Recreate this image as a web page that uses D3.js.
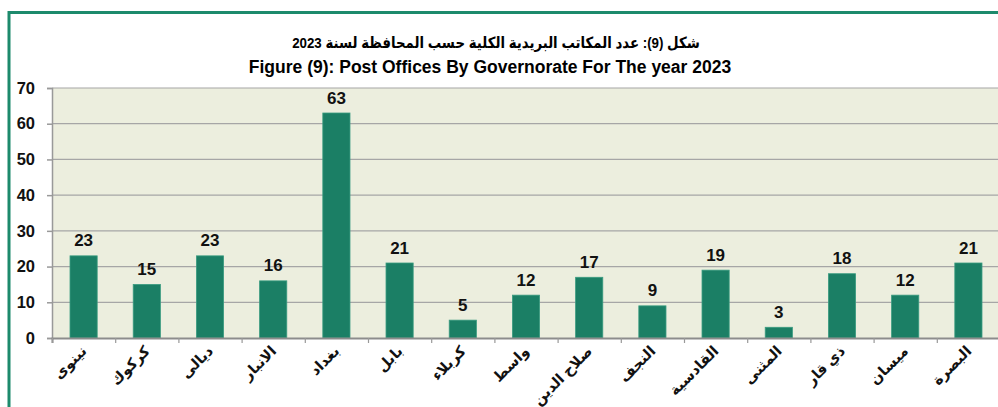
<!DOCTYPE html>
<html>
<head>
<meta charset="utf-8">
<script src="https://cdn.jsdelivr.net/npm/d3@7"></script>
<style>
  body { margin: 0; background: #fff; }
  svg text { font-family: "Liberation Sans", Arial, "DejaVu Sans", sans-serif; font-weight: bold; }
</style>
</head>
<body>
<svg id="chart" width="998" height="407"></svg>
<script>
// data
var governorates = ["نينوى", "كركوك", "ديالى", "الانبار", "بغداد", "بابل", "كربلاء", "واسط",
    "صلاح الدين", "النجف", "القادسية", "المثنى", "ذي قار", "ميسان", "البصرة"];
var offices = [23, 15, 23, 16, 63, 21, 5, 12, 17, 9, 19, 3, 18, 12, 21];
var yTicks = [0, 10, 20, 30, 40, 50, 60, 70];
var titleAr = "شكل (9): عدد المكاتب البريدية الكلية حسب المحافظة لسنة 2023";
var titleEn = "Figure (9): Post Offices By Governorate For The year 2023";

var svg = d3.select("#chart"),
    plotL = 52, plotR = 1000, plotT = 88, plotB = 338;

// outer frame
svg.append("line").attr("x1", 9).attr("x2", 998).attr("y1", 12.5).attr("y2", 12.5)
    .attr("stroke", "#1d8a6c").attr("stroke-width", 3);
svg.append("line").attr("x1", 9).attr("x2", 9).attr("y1", 11).attr("y2", 407)
    .attr("stroke", "#1d8a6c").attr("stroke-width", 3);

// arabic title squeezed a little, the original font is narrower
svg.append("text").attr("transform", "translate(496,48) scale(0.86,1)").attr("text-anchor", "middle")
    .attr("font-size", 15.5).attr("direction", "rtl").text(titleAr);
svg.append("text").attr("x", 490).attr("y", 73).attr("text-anchor", "middle")
    .attr("font-size", 17.5).text(titleEn);

var xScale = d3.scaleBand().domain(governorates).range([plotL, plotR]).paddingInner(0.57).paddingOuter(0.285),
    yScale = d3.scaleLinear().domain([0, 70]).range([plotB, plotT]);

svg.append("rect").attr("x", plotL).attr("y", plotT).attr("width", plotR - plotL).attr("height", plotB - plotT)
    .attr("fill", "#eceede");

// grid
svg.append("g").selectAll("line").data(yTicks.filter(function (d) { return d > 0; })).enter().append("line")
    .attr("x1", plotL).attr("x2", plotR)
    .attr("y1", function (d) { return yScale(d); }).attr("y2", function (d) { return yScale(d); })
    .attr("stroke", "#a6a6a6").attr("stroke-width", 1.2);

var yAxis = svg.append("g").attr("transform", "translate(" + plotL + ",0)")
    .call(d3.axisLeft(yScale).tickValues(yTicks).tickSize(5).tickPadding(12));
yAxis.selectAll("line,path").attr("stroke", "#999").attr("stroke-width", 1.5);
yAxis.selectAll("text").attr("font-size", 16.5).attr("fill", "#111")
    .style("font-family", "'Liberation Sans', Arial, sans-serif").style("font-weight", "bold");

// bars
svg.selectAll(".bar").data(offices).enter().append("rect").attr("class", "bar")
    .attr("x", function (d, i) { return xScale(governorates[i]); })
    .attr("y", function (d) { return yScale(d); })
    .attr("width", xScale.bandwidth())
    .attr("height", function (d) { return plotB - yScale(d); })
    .attr("fill", "#1b7f65").attr("stroke", "#3a9c80").attr("stroke-width", 0.8);

svg.selectAll(".val").data(offices).enter().append("text").attr("class", "val")
    .attr("x", function (d, i) { return xScale(governorates[i]) + xScale.bandwidth() / 2; })
    .attr("y", function (d) { return yScale(d) - 9.5; })
    .attr("text-anchor", "middle").attr("font-size", 17).attr("fill", "#111")
    .text(function (d) { return d; });

// x axis with ticks on band boundaries
var xb = d3.scaleLinear().domain([0, governorates.length]).range([plotL, plotR]);
var xAxis = svg.append("g").attr("transform", "translate(0," + plotB + ")")
    .call(d3.axisBottom(xb).tickValues(d3.range(governorates.length + 1)).tickSize(5).tickFormat(""));
xAxis.selectAll("line").attr("stroke", "#999").attr("stroke-width", 1.2);
xAxis.select("path").attr("stroke", "#8c8c8c").attr("stroke-width", 2);

svg.selectAll(".lbl").data(governorates).enter().append("text").attr("class", "lbl")
    .attr("transform", function (d) {
        return "translate(" + (xScale(d) + xScale.bandwidth() / 2 + 4) + "," + (plotB + 14) + ") rotate(-45)";
    })
    .attr("text-anchor", "end").attr("font-size", 14.5).attr("fill", "#111")
    .text(function (d) { return d; });
</script>
</body>
</html>
